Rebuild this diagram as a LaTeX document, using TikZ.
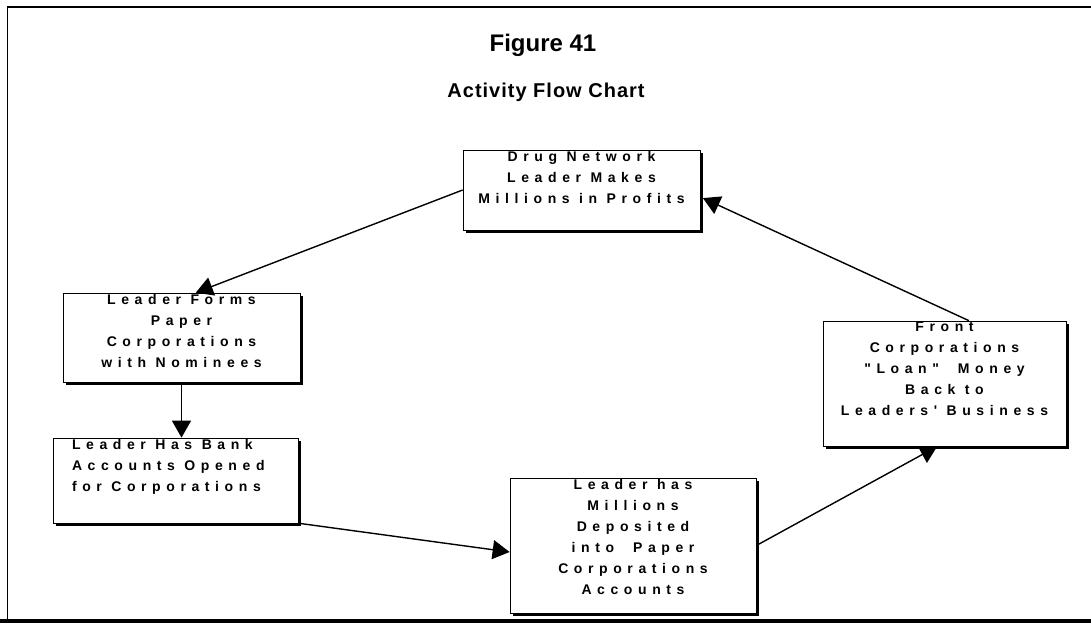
\documentclass[tikz,border=0pt]{standalone}
\usepackage{fontspec}
\setmainfont{Liberation Sans}
\newfontfamily\boxfont{Liberation Sans}[LetterSpace=40]
\newfontfamily\subfont{Liberation Sans}[LetterSpace=5]
\usetikzlibrary{arrows.meta,calc,shadows}
\newcommand\boxtxt[3]{\parbox[c][#2pt][t]{#1pt}{\centering\boxfont\bfseries\fontsize{14}{21}\selectfont\vspace*{1pt}#3}}
\newcommand\boxtxtl[3]{\parbox[c][#2pt][t]{#1pt}{\raggedright\leftskip=19pt\boxfont\bfseries\fontsize{14}{21}\selectfont\vspace*{1pt}#3}}
\tikzset{
  box/.style={draw=black, line width=0.7pt, fill=white, inner sep=0pt,
    drop shadow={shadow xshift=2.5pt, shadow yshift=-2.5pt, fill=black, opacity=1}},
  arr/.style={-{Triangle[length=17pt,width=19pt]}, line width=1.4pt},
  frameline/.style={line width=1pt},
  title/.style={font=\bfseries\fontsize{24}{28}\selectfont, anchor=base, inner sep=0pt},
  subtitle/.style={font=\subfont\bfseries\fontsize{20}{23}\selectfont, anchor=base, inner sep=0pt}
}
\begin{document}
\begin{tikzpicture}[x=1pt,y=-1pt]
\useasboundingbox (0,0) rectangle (1091,627);
% frame
\draw[frameline] (7,619) -- (7,7);
\draw[line width=1.6pt] (7,7) -- (1091,7);
\draw[line width=4pt] (0,621) -- (1091,621);
% titles
\node[title] (t1) at (543,51) {Figure 41};
\node[subtitle] (t2) at (546,97) {Activity Flow Chart};
% boxes
\node[box] (drug) at (581.5,190) {\boxtxt{237}{80}{Drug Network\\Leader Makes\\Millions in Profits}};
\node[box] (forms) at (181.5,337.5) {\boxtxt{237}{89}{Leader Forms\\Paper\\Corporations\\with Nominees}};
\node[box] (bank) at (175.5,480.5) {\boxtxtl{245}{85}{Leader Has Bank\\Accounts Opened\\for Corporations}};
\node[box] (mill) at (633,545.5) {\boxtxt{246}{135}{Leader has\\Millions\\Deposited\\into\ \ Paper\\Corporations\\Accounts}};
\node[box] (front) at (944.5,383.5) {\boxtxt{243}{125}{Front\\Corporations\\"Loan"\ \ Money\\Back to\\Leaders' Business}};
% connectors
\draw[arr] (drug.west) -- ($(forms.north west)!0.56!(forms.north east)$);
\draw[arr] (forms.south) -- (forms.south |- bank.north);
\draw[arr] ($(bank.south east)+(1,0)$) -- ($(mill.west)+(0,6.5)$);
\draw[arr] (mill.east) -- ($(front.south west)!0.47!(front.south east)$);
\draw[arr] ($(front.north west)!0.6!(front.north east)$) -- ($(drug.north east)!0.6!(drug.south east)+(2.5,0)$);
\end{tikzpicture}
\end{document}
